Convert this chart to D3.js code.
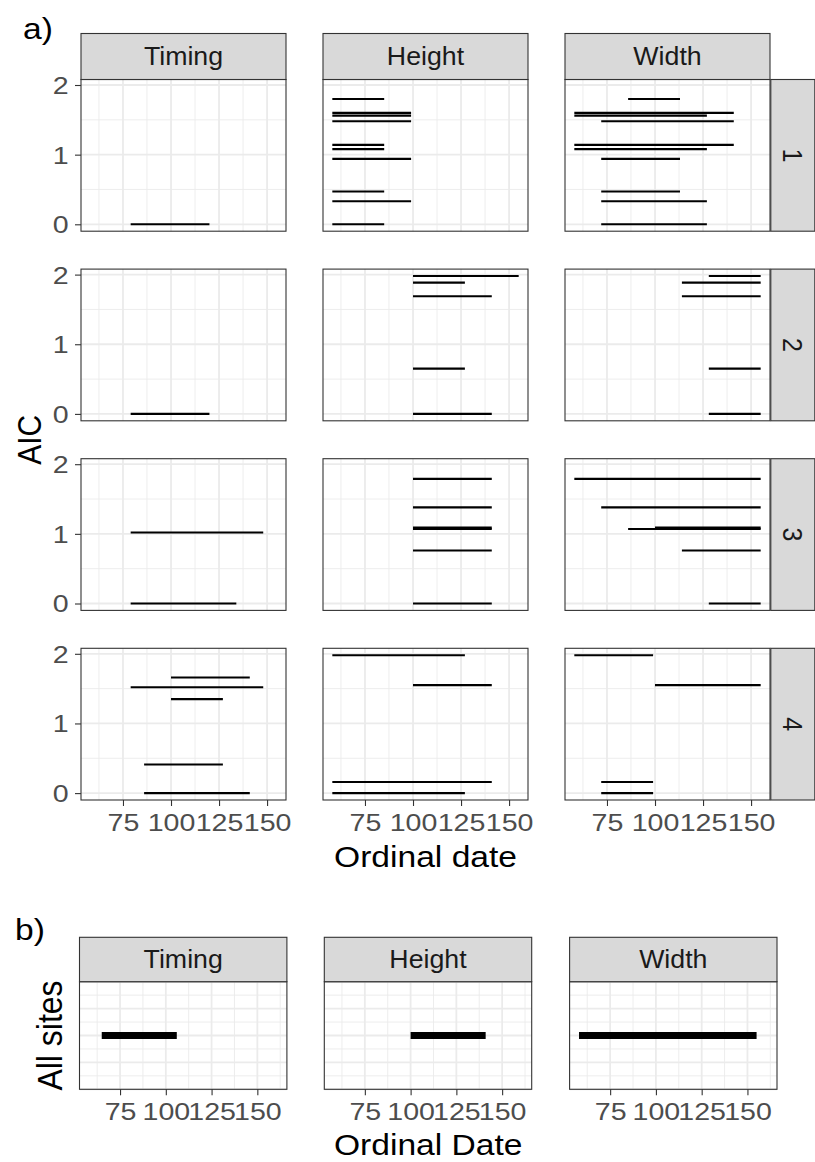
<!DOCTYPE html>
<html>
<head>
<meta charset="utf-8">
<script src="https://cdn.jsdelivr.net/npm/d3@7"></script>
<style>
  html, body { margin: 0; padding: 0; background: #ffffff; }
  svg { display: block; font-family: "Liberation Sans", Arial, Helvetica, sans-serif; }
</style>
</head>
<body>
<svg id="fig" width="815" height="1162"></svg>
<script>
// ---------------- data ----------------
const traits = ["Timing", "Height", "Width"];
const sites = ["1", "2", "3", "4"];

// Climate windows within 2 AIC units of the best model, one row per window:
// site, window start, window end (ordinal date), delta AIC
const timingSite  = ["1", "2", "3", "3", "4", "4", "4", "4", "4"];
const timingStart = [79, 79, 79, 79, 100, 79, 100, 86, 86];
const timingEnd   = [120, 120, 148, 134, 141, 148, 127, 127, 141];
const timingAIC   = [0, 0, 1.02, 0, 1.66, 1.52, 1.35, 0.41, 0];

const heightSite  = ["1", "1", "1", "1", "1", "1", "1", "1", "1", "1",
                     "2", "2", "2", "2", "2",
                     "3", "3", "3", "3", "3", "3",
                     "4", "4", "4", "4"];
const heightStart = [58, 58, 58, 58, 58, 58, 58, 58, 58, 58,
                     100, 100, 100, 100, 100,
                     100, 100, 100, 100, 100, 100,
                     58, 100, 58, 58];
const heightEnd   = [85, 99, 99, 99, 85, 85, 99, 85, 99, 85,
                     155, 127, 141, 127, 141,
                     141, 141, 141, 141, 141, 141,
                     127, 141, 141, 127];
const heightAIC   = [1.80, 1.60, 1.56, 1.48, 1.14, 1.08, 0.94, 0.47, 0.33, 0,
                     1.98, 1.885, 1.69, 0.65, 0,
                     1.79, 1.38, 1.09, 1.07, 0.76, 0,
                     1.98, 1.55, 0.16, 0];

const widthSite   = ["1", "1", "1", "1", "1", "1", "1", "1", "1", "1",
                     "2", "2", "2", "2", "2",
                     "3", "3", "3", "3", "3", "3",
                     "4", "4", "4", "4"];
const widthStart  = [86, 58, 58, 72, 58, 58, 72, 72, 72, 72,
                     128, 114, 114, 128, 128,
                     58, 72, 100, 86, 114, 128,
                     58, 100, 72, 72];
const widthEnd    = [113, 141, 127, 141, 141, 127, 113, 113, 127, 127,
                     155, 155, 155, 155, 155,
                     155, 155, 155, 155, 155, 155,
                     99, 155, 99, 99];
const widthAIC    = [1.80, 1.60, 1.56, 1.48, 1.14, 1.08, 0.94, 0.47, 0.33, 0,
                     1.98, 1.885, 1.69, 0.65, 0,
                     1.79, 1.38, 1.09, 1.07, 0.76, 0,
                     1.98, 1.55, 0.16, 0];

// Best window when all sites are pooled
const pooledTrait = ["Timing", "Height", "Width"];
const pooledStart = [65, 100, 58];
const pooledEnd   = [106, 141, 155];
const pooledY     = [0, 0, 0];

// Scale ranges and breaks
const xRangeA  = [58, 155];
const yRangeA  = [0, 1.98];
const xRangeB  = [58, 161];
const yRangeB  = [-0.5, 0.5];
const xTicks   = [75, 100, 125, 150];
const xMinor   = [62.5, 87.5, 112.5, 137.5, 162.5];
const yTicksA  = [0, 1, 2];
const yMinorA  = [0.5, 1.5];
const yBreaksB = [-0.5, -0.25, 0, 0.25, 0.5];
const yMinorB  = [-0.375, -0.125, 0.125, 0.375];

// ---------------- styling / layout ----------------
const FONT_TICK = 24, FONT_STRIP = 25, FONT_TITLE = 30, FONT_TITLE_B = 32;
const SX = 1.12;            // horizontal text stretch
const SX_TICK = 1.19;
const GRID = "#ebebeb", BORDER = "#333333", STRIP_FILL = "#d9d9d9";
const TICK_TEXT = "#4d4d4d", STRIP_TEXT = "#1a1a1a";

const padRange = (r) => { const d = (r[1] - r[0]) * 0.05; return [r[0] - d, r[1] + d]; };

const A = {
  colX: [81, 323, 565], pw: 205,
  rowY0: 79.5, rowStep: 189.6, ph: 151.7,
  stripTop: 33.5, stripRightW: 44
};
const B = {
  colX: [79.5, 324.3, 569.6], pw: 207.4,
  stripTop: 937.3, stripH: 44.4, top: 981.7, ph: 107.6
};

const svg = d3.select("#fig");
svg.append("rect").attr("width", 815).attr("height", 1162).attr("fill", "#ffffff");

function label(g, x, y, s, o = {}) {
  const rot = o.rotate || 0;
  return g.append("text")
    .attr("transform", `translate(${x},${y}) scale(${o.sx || SX},1) rotate(${rot})`)
    .attr("text-anchor", o.anchor || "middle")
    .attr("dy", o.dy || 0)
    .attr("font-size", o.size)
    .attr("fill", o.fill || "#000000")
    .text(s);
}

function drawGrid(g, x, y, w, h, xMaj, xMin, yMaj, yMin) {
  const grid = g.append("g");
  grid.selectAll("line.xmin").data(xMin.filter(v => x(v) > 0 && x(v) < w)).join("line")
    .attr("x1", d => x(d)).attr("x2", d => x(d)).attr("y1", 0).attr("y2", h)
    .attr("stroke", GRID).attr("stroke-width", 0.9);
  grid.selectAll("line.ymin").data(yMin.filter(v => y(v) > 0 && y(v) < h)).join("line")
    .attr("y1", d => y(d)).attr("y2", d => y(d)).attr("x1", 0).attr("x2", w)
    .attr("stroke", GRID).attr("stroke-width", 0.9);
  grid.selectAll("line.xmaj").data(xMaj).join("line")
    .attr("x1", d => x(d)).attr("x2", d => x(d)).attr("y1", 0).attr("y2", h)
    .attr("stroke", GRID).attr("stroke-width", 1.8);
  grid.selectAll("line.ymaj").data(yMaj).join("line")
    .attr("y1", d => y(d)).attr("y2", d => y(d)).attr("x1", 0).attr("x2", w)
    .attr("stroke", GRID).attr("stroke-width", 1.8);
}

function styleAxis(axisG, kind) {
  axisG.select(".domain").remove();
  axisG.selectAll(".tick line").attr("stroke", BORDER).attr("stroke-width", 1.1);
  const t = axisG.selectAll(".tick text")
    .attr("font-size", FONT_TICK).attr("fill", TICK_TEXT)
    .attr("font-family", "Liberation Sans, Arial, Helvetica, sans-serif");
  if (kind === "bottom") {
    t.attr("y", 31).attr("dy", 0).attr("transform", `scale(${SX_TICK},1)`);
  } else {
    t.attr("x", -12.5 / SX_TICK).attr("dy", "0.35em").attr("transform", `scale(${SX_TICK},1)`);
  }
}

// ---------------- part a ----------------
const xA = d3.scaleLinear().domain(padRange(xRangeA)).range([0, A.pw]);
const yA = d3.scaleLinear().domain(padRange(yRangeA)).range([A.ph, 0]);

const traitRows = {
  Timing: d3.range(timingSite.length).map(i => ({ site: timingSite[i], s: timingStart[i], e: timingEnd[i], aic: timingAIC[i] })),
  Height: d3.range(heightSite.length).map(i => ({ site: heightSite[i], s: heightStart[i], e: heightEnd[i], aic: heightAIC[i] })),
  Width:  d3.range(widthSite.length).map(i => ({ site: widthSite[i], s: widthStart[i], e: widthEnd[i], aic: widthAIC[i] }))
};

traits.forEach((trait, ci) => {
  sites.forEach((site, ri) => {
    const px = A.colX[ci], py = A.rowY0 + ri * A.rowStep;
    const g = svg.append("g").attr("transform", `translate(${px},${py})`);
    drawGrid(g, xA, yA, A.pw, A.ph, xTicks, xMinor, yTicksA, yMinorA);

    g.selectAll("line.seg").data(traitRows[trait].filter(d => d.site === site)).join("line")
      .attr("x1", d => xA(d.s)).attr("x2", d => xA(d.e))
      .attr("y1", d => yA(d.aic)).attr("y2", d => yA(d.aic))
      .attr("stroke", "#000000").attr("stroke-width", 2.1);

    g.append("rect").attr("width", A.pw).attr("height", A.ph)
      .attr("fill", "none").attr("stroke", BORDER).attr("stroke-width", 1.1);

    if (ci === 0) {
      const ax = g.append("g").call(d3.axisLeft(yA).tickValues(yTicksA).tickSize(6).tickFormat(d3.format("d")));
      styleAxis(ax, "left");
    }
    if (ri === sites.length - 1) {
      const ax = g.append("g").attr("transform", `translate(0,${A.ph})`)
        .call(d3.axisBottom(xA).tickValues(xTicks).tickSize(6).tickFormat(d3.format("d")));
      styleAxis(ax, "bottom");
    }
    if (ri === 0) {
      const sh = A.rowY0 - A.stripTop;
      g.append("rect").attr("y", -sh).attr("width", A.pw).attr("height", sh)
        .attr("fill", STRIP_FILL).attr("stroke", BORDER).attr("stroke-width", 1.1);
      label(g, A.pw / 2, -sh / 2, trait, { size: FONT_STRIP, dy: "0.35em", fill: STRIP_TEXT, sx: 1.07 });
    }
    if (ci === traits.length - 1) {
      g.append("rect").attr("x", A.pw + 0.8).attr("width", A.stripRightW).attr("height", A.ph)
        .attr("fill", STRIP_FILL).attr("stroke", BORDER).attr("stroke-width", 1.1);
      label(g, A.pw + 0.8 + A.stripRightW / 2, A.ph / 2, site,
            { size: FONT_STRIP, dy: "0.35em", fill: STRIP_TEXT, rotate: 90, sx: 1.07 });
    }
  });
});

const aBottom = A.rowY0 + (sites.length - 1) * A.rowStep + A.ph;
const aMidX = (A.colX[0] + A.colX[2] + A.pw) / 2;
label(svg, aMidX, 866.5, "Ordinal date", { size: FONT_TITLE });
label(svg, 41, (A.rowY0 + aBottom) / 2, "AIC", { size: FONT_TITLE, rotate: -90, sx: 1.1 });
label(svg, 23, 38.5, "a)", { size: FONT_TITLE, anchor: "start" });

// ---------------- part b ----------------
const xB = d3.scaleLinear().domain(padRange(xRangeB)).range([0, B.pw]);
const yB = d3.scaleLinear().domain(yRangeB).range([B.ph, 0]);

pooledTrait.forEach((trait, ci) => {
  const g = svg.append("g").attr("transform", `translate(${B.colX[ci]},${B.top})`);
  drawGrid(g, xB, yB, B.pw, B.ph, xTicks, xMinor, yBreaksB, yMinorB);

  g.append("line")
    .attr("x1", xB(pooledStart[ci])).attr("x2", xB(pooledEnd[ci]))
    .attr("y1", yB(pooledY[ci])).attr("y2", yB(pooledY[ci]))
    .attr("stroke", "#000000").attr("stroke-width", 7);

  g.append("rect").attr("width", B.pw).attr("height", B.ph)
    .attr("fill", "none").attr("stroke", BORDER).attr("stroke-width", 1.1);

  const ax = g.append("g").attr("transform", `translate(0,${B.ph})`)
    .call(d3.axisBottom(xB).tickValues(xTicks).tickSize(6).tickFormat(d3.format("d")));
  styleAxis(ax, "bottom");

  g.append("rect").attr("y", -B.stripH).attr("width", B.pw).attr("height", B.stripH)
    .attr("fill", STRIP_FILL).attr("stroke", BORDER).attr("stroke-width", 1.1);
  label(g, B.pw / 2, -B.stripH / 2, trait, { size: FONT_STRIP, dy: "0.35em", fill: STRIP_TEXT, sx: 1.07 });
});

const bMidX = (B.colX[0] + B.colX[2] + B.pw) / 2;
label(svg, bMidX, 1155, "Ordinal Date", { size: FONT_TITLE });
label(svg, 62, B.top + B.ph / 2, "All sites", { size: FONT_TITLE_B, rotate: -90, sx: 1.1 });
label(svg, 15, 940, "b)", { size: FONT_TITLE, anchor: "start" });
</script>
</body>
</html>
